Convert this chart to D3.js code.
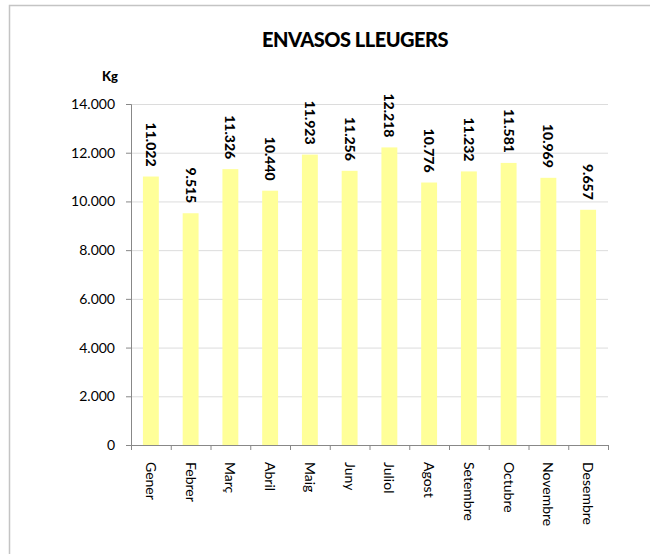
<!DOCTYPE html>
<html>
<head>
<meta charset="utf-8">
<script src="https://cdn.jsdelivr.net/npm/d3@7"></script>
<style>
  body { margin: 0; background: #fff; }
  svg { display: block; font-family: Lato, "Open Sans", sans-serif; }
</style>
</head>
<body>
<div id="chart"></div>
<script>
// months (catalan)
var months = ["Gener", "Febrer", "Març", "Abril", "Maig", "Juny", "Juliol", "Agost", "Setembre", "Octubre", "Novembre", "Desembre"];
// kg per month
var kgValues = [11022, 9515, 11326, 10440, 11923, 11256, 12218, 10776, 11232, 11581, 10969, 9657];
var yTicks = [0, 2000, 4000, 6000, 8000, 10000, 12000, 14000];

var W = 650, H = 554;
var margin = {top: 104, right: 42, bottom: 109, left: 131};
var width = W - margin.left - margin.right;
var height = H - margin.top - margin.bottom;

var locale = d3.formatLocale({decimal: ",", thousands: ".", grouping: [3], currency: ["", " €"]});
var fmt = locale.format(",d");

var svg = d3.select("#chart").append("svg")
  .attr("width", W)
  .attr("height", H);

// outer frame
svg.append("rect")
  .attr("x", 9.5).attr("y", 5.5)
  .attr("width", W + 20).attr("height", H + 20)
  .attr("fill", "none")
  .attr("stroke", "#c4c4c4")
  .attr("stroke-width", 1.5);

svg.append("text")
  .attr("x", 355).attr("y", 47)
  .attr("text-anchor", "middle")
  .style("font-size", "20px")
  .style("font-weight", "900")
  .style("letter-spacing", "-0.5px")
  .text("ENVASOS LLEUGERS");

svg.append("text")
  .attr("x", 110).attr("y", 81)
  .attr("text-anchor", "middle")
  .style("font-size", "13px")
  .style("font-weight", "900")
  .text("Kg");

var g = svg.append("g")
  .attr("transform", "translate(" + margin.left + "," + margin.top + ")");

var x = d3.scaleBand()
  .domain(months)
  .range([0, width])
  .paddingInner(0.6)
  .paddingOuter(0.3);

var y = d3.scaleLinear()
  .domain([0, 14000])
  .range([height, 0]);

// gridlines
g.append("g")
  .selectAll("line")
  .data(yTicks.slice(1))
  .enter()
  .append("line")
    .attr("x1", 0).attr("x2", width)
    .attr("y1", function(d) { return y(d) + 0.5; })
    .attr("y2", function(d) { return y(d) + 0.5; })
    .attr("stroke", "#dcdcdc");

// bars
g.selectAll("rect.bar")
  .data(kgValues)
  .enter()
  .append("rect")
    .attr("class", "bar")
    .attr("x", function(d, i) { return x(months[i]); })
    .attr("width", x.bandwidth())
    .attr("y", function(d) { return y(d); })
    .attr("height", function(d) { return height - y(d); })
    .attr("fill", "#ffff99");

// value labels, rotated
g.selectAll("text.val")
  .data(kgValues)
  .enter()
  .append("text")
    .attr("class", "val")
    .attr("transform", function(d, i) {
      return "translate(" + (x(months[i]) + x.bandwidth() / 2) + "," + (y(d) - 10) + ") rotate(90)";
    })
    .attr("text-anchor", "end")
    .attr("dy", "0.35em")
    .style("font-size", "14px")
    .style("font-weight", "900")
    .text(function(d) { return fmt(d); });

// y axis
var yAxis = d3.axisLeft(y)
  .tickValues(yTicks)
  .tickSize(5)
  .tickFormat(fmt);

var ya = g.append("g").call(yAxis);
ya.select(".domain").attr("stroke", "#888");
ya.selectAll(".tick line").attr("stroke", "#888");
ya.selectAll(".tick text")
  .attr("x", -16)
  .attr("fill", "#000")
  .style("font-size", "14px")
  .style("font-family", "Lato, sans-serif");

// x axis
var xTickPos = d3.range(months.length + 1).map(function(i) { return i * width / months.length; });

g.append("line")
  .attr("x1", 0).attr("x2", width)
  .attr("y1", height + 0.5).attr("y2", height + 0.5)
  .attr("stroke", "#888");

g.append("g")
  .selectAll("line")
  .data(xTickPos)
  .enter()
  .append("line")
    .attr("x1", function(d) { return d + 0.5; })
    .attr("x2", function(d) { return d + 0.5; })
    .attr("y1", height).attr("y2", height + 5)
    .attr("stroke", "#888");

g.selectAll("text.month")
  .data(months)
  .enter()
  .append("text")
    .attr("class", "month")
    .attr("transform", function(d) {
      return "translate(" + (x(d) + x.bandwidth() / 2) + "," + (height + 17) + ") rotate(90)";
    })
    .attr("dy", "0.35em")
    .style("font-size", "14px")
    .text(function(d) { return d; });
</script>
</body>
</html>
